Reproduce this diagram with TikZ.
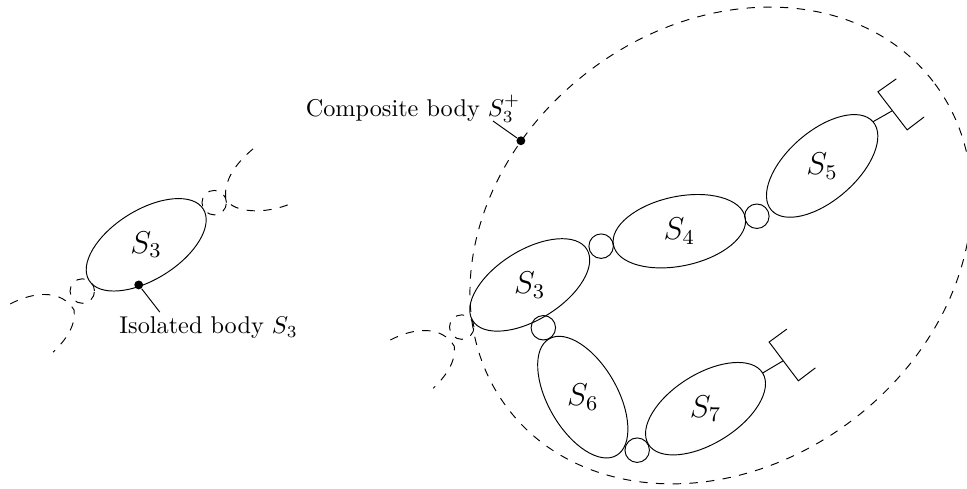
\documentclass[tikz,border=0pt]{standalone}
\usetikzlibrary{shapes.geometric}
\tikzset{
    body/.style={draw,ellipse,inner sep=0pt,outer sep=0pt,minimum width=1.98cm,minimum height=1.02cm},
    joint/.style={draw,circle,inner sep=0pt,outer sep=0pt,minimum size=0.36cm},
    longdash/.style={dash pattern=on 3.5pt off 3.5pt},
    ghost/.style={joint,longdash},
    dot/.style={fill,circle,inner sep=0pt,minimum size=0.13cm},
    bodylabel/.style={font=\large,scale=1.1,inner sep=0pt},
    caption/.style={anchor=base west,inner sep=0pt,scale=1.015}
}
\begin{document}
\begin{tikzpicture}
    \useasboundingbox (0,0) rectangle (14.22,7.19);
    % isolated body
    \node[body,rotate=32] (iso) at (2.15,3.59) {};
    \node[bodylabel] at (iso) {$S_3$};
    \node[ghost] (isoa) at (1.21,2.91) {};
    \node[ghost] (isob) at (3.15,4.21) {};
    \draw[longdash] (0.15,2.72) .. controls (0.51,2.91) and (0.91,2.93) .. (1.09,2.63) .. controls (1.12,2.41) and (0.97,2.19) .. (0.78,2.01);
    \draw[longdash] (3.72,5.00) .. controls (3.47,4.79) and (3.29,4.54) .. (3.32,4.28) .. controls (3.37,4.10) and (3.79,4.01) .. (4.24,4.18);
    \node[dot] (isodot) at (2.04,3.00) {};
    \coordinate (isoend) at (2.35,2.60);
    \draw (isodot) -- (isoend);
    \node[caption] (isotext) at (1.75,2.28) {Isolated body $S_3$};
    % chain of bodies
    \node[body,rotate=32] (s3) at (7.79,3.00) {};
    \node[body,rotate=12] (s4) at (9.99,3.79) {};
    \node[body,rotate=41] (s5) at (12.09,4.75) {};
    \node[body,rotate=-60] (s6) at (8.57,1.35) {};
    \node[body,rotate=32] (s7) at (10.375,1.18) {};
    \node[bodylabel] at (s3) {$S_3$};
    \node[bodylabel] at (s4) {$S_4$};
    \node[bodylabel] at (s5) {$S_5$};
    \node[bodylabel] at (s6) {$S_6$};
    \node[bodylabel] at (s7) {$S_7$};
    \node[joint] (j34) at (8.84,3.57) {};
    \node[joint] (j45) at (11.13,4.01) {};
    \node[joint] (j36) at (7.99,2.37) {};
    \node[joint] (j67) at (9.37,0.57) {};
    \node[ghost] (compa) at (6.79,2.38) {};
    \draw[longdash] (5.74,2.19) .. controls (6.10,2.38) and (6.50,2.40) .. (6.68,2.10) .. controls (6.71,1.88) and (6.56,1.66) .. (6.37,1.48);
    % supports
    \coordinate (h5) at (13.12,5.56);
    \coordinate (h7) at (11.51,1.88);
    \draw (s5.east) -- (h5);
    \draw (13.18,6.03) -- (12.91,5.84) -- (13.34,5.28) -- (13.59,5.47);
    \draw (s7.east) -- (h7);
    \draw (11.57,2.35) -- (11.31,2.16) -- (11.74,1.59) -- (11.99,1.78);
    % composite body
    \node[body,longdash,rotate=37.7,minimum width=7.89cm,minimum height=6.43cm] (comp) at (10.60,3.58) {};
    \node[dot] (compdot) at (7.66,5.12) {};
    \coordinate (compend) at (7.25,5.41);
    \draw (compdot) -- (compend);
    \node[caption] (comptext) at (4.49,5.48) {Composite body $S_3^+$};
\end{tikzpicture}
\end{document}
